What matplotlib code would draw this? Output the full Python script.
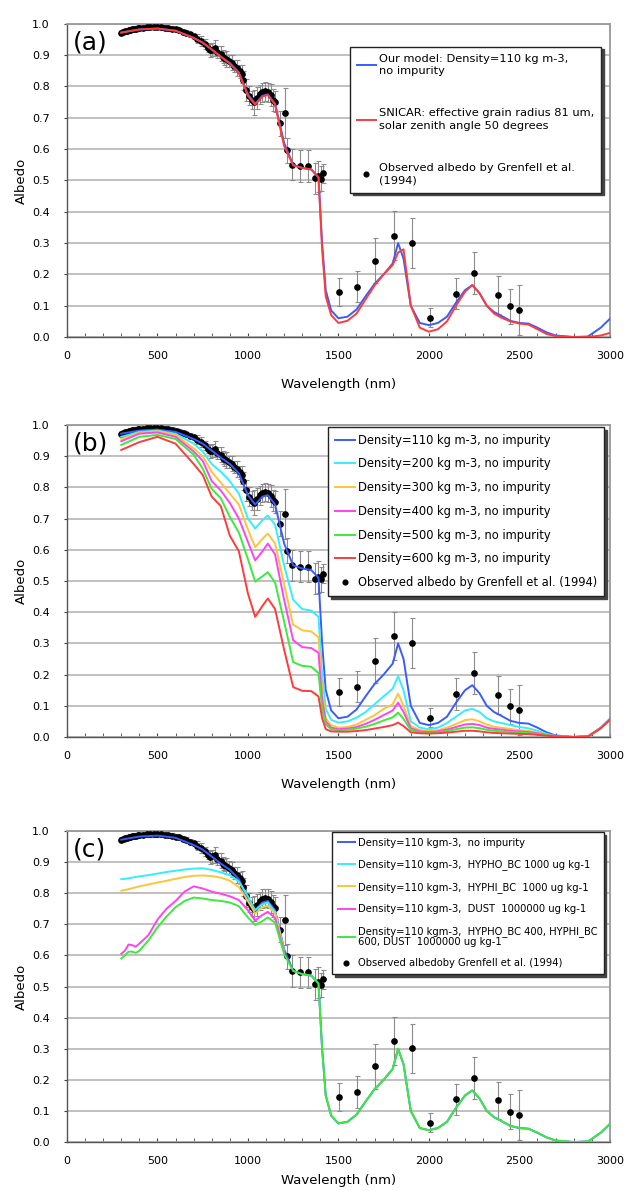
import numpy as np
import matplotlib
matplotlib.use("Agg")
import matplotlib.pyplot as plt
from matplotlib.ticker import MultipleLocator, FormatStrFormatter

# observed albedo (Grenfell et al. 1994)
obs_wl = [300, 310, 320, 330, 340, 350, 360, 370, 380, 390, 400,
          420, 440, 460, 480, 500, 520, 540, 560, 580, 600, 620, 640, 660, 680, 700, 720, 740, 760, 780,
          790, 800, 820, 830, 850, 860, 870, 880, 895, 910, 925, 940, 955, 965, 975, 990,
          1005, 1020, 1035, 1050, 1065, 1080, 1095, 1110, 1125, 1140, 1150,
          1177, 1204, 1214, 1241, 1289, 1333, 1370, 1389, 1405, 1416,
          1504, 1604, 1703, 1805, 1904, 2004, 2149, 2249, 2381, 2449, 2499]
obs_alb = [.972, .974, .976, .978, .98, .981, .983, .984, .985, .986, .987,
           .988, .989, .99, .99, .99, .989, .988, .986, .985, .982, .979, .975, .971, .966, .96, .953, .945, .935, .924,
           .915, .918, .922, .91, .905, .895, .89, .888, .882, .876, .865, .858, .848, .84, .82, .79,
           .77, .757, .75, .762, .775, .782, .785, .782, .772, .758, .752,
           .683, .715, .597, .55, .546, .546, .507, .513, .505, .523,
           .145, .161, .244, .324, .301, .062, .138, .205, .134, .098, .087]
obs_err = [.008, .008, .008, .008, .008, .008, .008, .008, .008, .008, .008,
           .008, .008, .008, .008, .008, .008, .008, .008, .008, .008, .008, .008, .008, .008, .008, .015, .015, .015, .015,
           .02, .02, .025, .02, .025, .02, .02, .025, .02, .025, .02, .025, .02, .03, .03, .035,
           .03, .03, .04, .035, .03, .03, .03, .03, .035, .035, .035,
           .04, .08, .04, .05, .05, .05, .05, .05, .04, .03,
           .045, .05, .072, .077, .08, .03, .05, .067, .06, .055, .08]

# model wavelengths
wl = [300, 400, 500, 600, 700, 750, 800, 850, 900, 950,
      1000, 1040, 1080, 1110, 1150, 1200, 1250, 1300, 1350, 1390,
      1410, 1430, 1460, 1500, 1550, 1600, 1650, 1700, 1750, 1800,
      1830, 1860, 1900, 1950, 2000, 2050, 2100, 2150, 2200, 2240,
      2280, 2320, 2360, 2400, 2450, 2500, 2550, 2600, 2650, 2700,
      2800, 2880, 2950, 3000]

d110 = [.972, .982, .985, .978, .955, .94, .918, .895, .875, .845,
        .775, .745, .77, .775, .745, .62, .55, .54, .535, .51,
        .30, .15, .085, .06, .065, .088, .13, .17, .20, .235,
        .30, .25, .10, .045, .038, .045, .065, .11, .15, .166,
        .14, .10, .08, .068, .052, .045, .043, .03, .015, .005,
        .0, .002, .03, .058]
snicar = [.972, .982, .985, .978, .955, .94, .918, .895, .873, .843,
          .77, .742, .768, .773, .742, .61, .548, .54, .535, .51,
          .28, .13, .07, .045, .052, .075, .12, .165, .20, .23,
          .27, .28, .10, .03, .017, .025, .05, .10, .145, .166,
          .14, .10, .075, .062, .05, .043, .04, .025, .01, .003,
          .0, .0, .005, .013]
d200 = [.962, .978, .982, .972, .94, .915, .875, .85, .82, .78,
        .70, .668, .695, .71, .68, .55, .44, .41, .405, .385,
        .20, .09, .055, .046, .05, .062, .08, .105, .13, .155,
        .195, .15, .05, .03, .025, .03, .045, .065, .085, .09,
        .08, .06, .05, .045, .038, .032, .028, .02, .01, .003,
        .0, .002, .028, .055]
d300 = [.955, .975, .98, .968, .925, .9, .85, .815, .78, .745,
        .665, .608, .635, .652, .62, .49, .36, .342, .338, .32,
        .15, .06, .038, .03, .032, .04, .055, .07, .09, .105,
        .139, .1, .035, .022, .02, .022, .03, .042, .054, .057,
        .05, .04, .033, .03, .026, .022, .02, .014, .008, .003,
        .0, .002, .028, .055]
d400 = [.948, .972, .976, .962, .915, .885, .82, .79, .75, .70,
        .625, .566, .595, .62, .585, .44, .31, .288, .285, .27,
        .12, .05, .03, .025, .027, .032, .042, .055, .07, .085,
        .11, .08, .028, .018, .016, .018, .024, .032, .04, .042,
        .038, .03, .026, .024, .02, .018, .016, .012, .007, .003,
        .0, .002, .028, .055]
d500 = [.936, .962, .968, .955, .905, .86, .795, .765, .705, .655,
        .57, .498, .515, .528, .495, .37, .24, .228, .225, .205,
        .09, .04, .025, .022, .023, .027, .033, .042, .053, .063,
        .078, .058, .022, .015, .013, .015, .019, .025, .03, .031,
        .028, .023, .02, .018, .016, .014, .012, .01, .006, .002,
        .0, .002, .028, .055]
d600 = [.92, .945, .962, .94, .875, .84, .77, .74, .645, .595,
        .46, .385, .42, .444, .41, .28, .16, .148, .147, .13,
        .06, .025, .018, .017, .017, .019, .022, .027, .032, .038,
        .046, .035, .015, .012, .011, .012, .014, .017, .02, .02,
        .018, .015, .013, .012, .011, .01, .009, .007, .004, .002,
        .0, .002, .028, .055]

# impurity runs (visible part, they join the clean curve after 1200 nm)
wl_imp = [300, 320, 340, 360, 380, 400, 450, 500, 550, 600, 650, 700,
          750, 800, 850, 900, 950, 1000, 1040, 1080, 1110, 1150, 1200]
hypho = [.845, .846, .848, .85, .852, .854, .858, .863, .868, .872, .876, .879,
         .88, .875, .867, .858, .838, .79, .745, .765, .77, .74, .615]
hyphi = [.808, .81, .813, .816, .819, .822, .828, .834, .84, .846, .852, .856,
         .857, .855, .85, .84, .82, .775, .735, .755, .76, .735, .612]
dust = [.605, .615, .635, .633, .628, .638, .665, .715, .75, .775, .805, .822,
        .815, .805, .798, .79, .778, .745, .712, .73, .74, .72, .61]
mixed = [.59, .60, .612, .612, .608, .615, .648, .69, .725, .755, .775, .786,
         .783, .778, .775, .77, .758, .722, .698, .71, .722, .705, .605]

BLUE = "#3a5cff"
RED = "#ff3b3b"
CYAN = "#33eeff"
ORANGE = "#ffc43a"
MAGENTA = "#ff44ee"
GREEN = "#3cea3c"
obs_label_a = "Observed albedo by Grenfell et al.\n(1994)"
obs_label_b = "Observed albedo by Grenfell et al. (1994)"
obs_label_c = "Observed albedoby Grenfell et al. (1994)"


def style_axes(ax, tag, xpad=12):
    ax.set_xlim(0, 3000)
    ax.set_ylim(0, 1.0)
    ax.xaxis.set_major_locator(MultipleLocator(500))
    ax.xaxis.set_minor_locator(MultipleLocator(100))
    ax.yaxis.set_major_locator(MultipleLocator(0.1))
    ax.yaxis.set_major_formatter(FormatStrFormatter("%.1f"))
    ax.tick_params(axis="x", which="both", direction="in", length=3, labelsize=8, pad=10, color="#444")
    ax.tick_params(axis="y", direction="out", length=2.5, labelsize=8, pad=10, color="#444")
    ax.grid(axis="y", color="#bbbbbb", lw=1.3)
    ax.set_axisbelow(True)
    for s in ["top", "right"]:
        ax.spines[s].set_color("#999999")
        ax.spines[s].set_linewidth(1.3)
    for s in ["left", "bottom"]:
        ax.spines[s].set_color("#555555")
        ax.spines[s].set_linewidth(1.0)
    ax.set_xlabel("Wavelength (nm)", fontsize=9.5, labelpad=xpad)
    ax.set_ylabel("Albedo", fontsize=9.5, labelpad=3)
    ax.text(0.011, 0.94, tag, transform=ax.transAxes, fontsize=18, ha="left", va="center", zorder=6)


def plot_obs(ax, label):
    ax.errorbar(obs_wl, obs_alb, yerr=obs_err, fmt="none", ecolor="#8c8c8c",
                elinewidth=0.8, capsize=1.8, capthick=0.8, zorder=3)
    ax.plot(obs_wl, obs_alb, "o", color="k", ms=3.8, label=label, zorder=3)


def make_legend(ax, handles, labels, x, y, fs, spacing, linesp=1.2):
    leg = ax.legend(handles, labels, loc="upper left", bbox_to_anchor=(x, y), fontsize=fs,
                    frameon=True, fancybox=False, shadow={"color": "#444444", "alpha": 1.0},
                    handlelength=1.7, handletextpad=0.3, labelspacing=spacing,
                    borderpad=0.6, borderaxespad=0.0, markerscale=0.9)
    leg.get_frame().set_edgecolor("#222222")
    leg.get_frame().set_linewidth(1.0)
    leg.set_zorder(10)
    for t in leg.get_texts():
        t.set_linespacing(linesp)
    return leg


fig = plt.figure(figsize=(6.29, 11.91), dpi=100)

# (a)
ax = fig.add_axes([0.1065, 0.717, 0.863, 0.263])
plot_obs(ax, obs_label_a)
ax.plot(wl, d110, color=BLUE, lw=1.4, label="Our model: Density=110 kg m-3,\nno impurity", zorder=4)
ax.plot(wl, snicar, color=RED, lw=1.4, label="SNICAR: effective grain radius 81 um,\nsolar zenith angle 50 degrees", zorder=4)
style_axes(ax, "(a)")
h, l = ax.get_legend_handles_labels()
make_legend(ax, [h[1], h[2], h[0]], [l[1], l[2], l[0]], 0.521, 0.927, 8.2, 2.8, 1.35)

# (b)
ax = fig.add_axes([0.1065, 0.3812, 0.863, 0.262])
plot_obs(ax, None)
series_b = [(d110, BLUE, "Density=110 kg m-3, no impurity"),
            (d200, CYAN, "Density=200 kg m-3, no impurity"),
            (d300, ORANGE, "Density=300 kg m-3, no impurity"),
            (d400, MAGENTA, "Density=400 kg m-3, no impurity"),
            (d500, GREEN, "Density=500 kg m-3, no impurity"),
            (d600, RED, "Density=600 kg m-3, no impurity")]
for vals, c, lab in series_b:
    ax.plot(wl, vals, color=c, lw=1.4, label=lab, zorder=4)
ax.plot([], [], "o", color="k", ms=3.8, label=obs_label_b)
style_axes(ax, "(b)")
h, l = ax.get_legend_handles_labels()
make_legend(ax, h, l, 0.481, 0.994, 8.3, 0.93)

# (c)
ax = fig.add_axes([0.1065, 0.0411, 0.863, 0.2612])
plot_obs(ax, None)
ax.plot(wl, d110, color=BLUE, lw=1.4, label="Density=110 kgm-3,  no impurity", zorder=4)
ax.plot(wl_imp, hypho, color=CYAN, lw=1.4, label="Density=110 kgm-3,  HYPHO_BC 1000 ug kg-1", zorder=4)
ax.plot(wl_imp, hyphi, color=ORANGE, lw=1.4, label="Density=110 kgm-3,  HYPHI_BC  1000 ug kg-1", zorder=4)
ax.plot(wl_imp, dust, color=MAGENTA, lw=1.4, label="Density=110 kgm-3,  DUST  1000000 ug kg-1", zorder=4)
ax.plot(wl_imp + wl[16:], mixed + d110[16:], color=GREEN, lw=1.4,
        label="Density=110 kgm-3,  HYPHO_BC 400, HYPHI_BC\n600, DUST  1000000 ug kg-1", zorder=4)
ax.plot([], [], "o", color="k", ms=3.8, label=obs_label_c)
style_axes(ax, "(c)", xpad=6)
h, l = ax.get_legend_handles_labels()
make_legend(ax, h, l, 0.488, 0.997, 7.2, 1.15, 1.0)

fig.savefig("out.png", dpi=100)
